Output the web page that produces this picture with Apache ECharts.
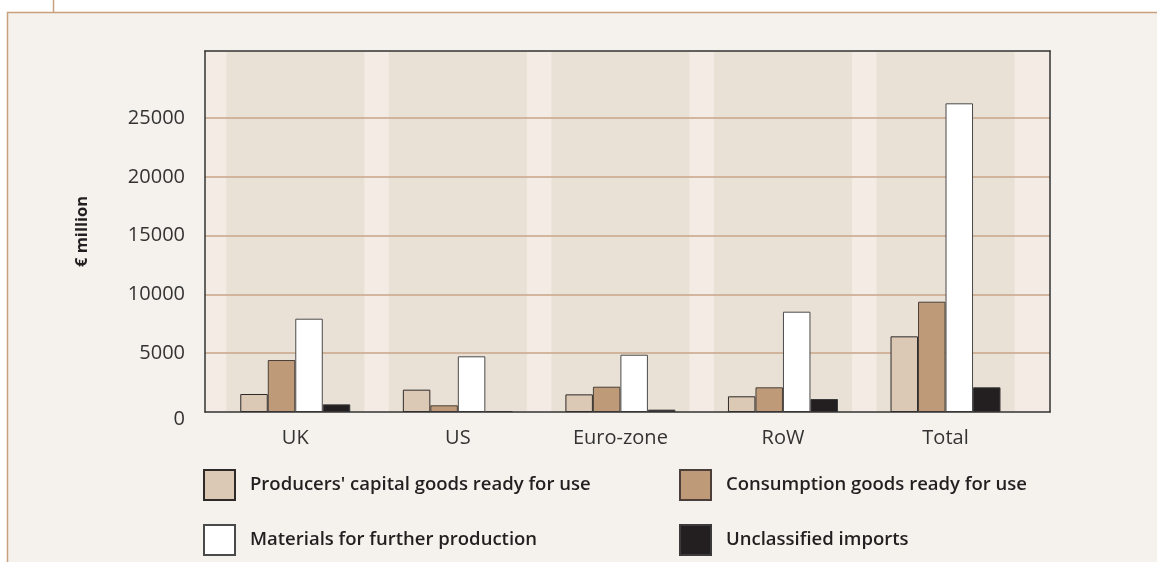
<!DOCTYPE html>
<html><head><meta charset="utf-8">
<script src="https://cdn.jsdelivr.net/npm/echarts@6/dist/echarts.min.js"></script>
<style>html,body{margin:0;padding:0;background:#fff}#c{width:1157px;height:562px}</style>
</head><body><div id="c"></div><script>
const categories = ['UK', 'US', 'Euro-zone', 'RoW', 'Total'];
const capitalGoods = [1530, 1900, 1500, 1335, 6435];
const consumptionGoods = [4420, 570, 2150, 2100, 9380];
const materials = [7935, 4735, 4870, 8530, 26250];
const unclassified = [650, 80, 200, 1105, 2100];
const yTicks = [0, 5000, 10000, 15000, 20000, 25000];
const yMax = 30700;
const seriesNames = ["Producers' capital goods ready for use", 'Consumption goods ready for use', 'Materials for further production', 'Unclassified imports'];

const FONT = 'Open Sans';
const chart = echarts.init(document.getElementById('c'), null, {renderer: 'canvas'});
const gridColor = '#c9a488';
function barSeries(name, data, color, border) {
  return {
    name: name, type: 'bar', xAxisIndex: 0, yAxisIndex: 0, data: data,
    barWidth: 27.5, barGap: '0%', z: 5,
    itemStyle: {color: color, borderColor: border, borderWidth: 1},
    emphasis: {disabled: true}
  };
}
function legendAt(name, left, top) {
  return {
    data: [name], left: left, top: top, padding: 0, orient: 'horizontal',
    itemWidth: 31, itemHeight: 30, icon: 'rect', selectedMode: false,
    textStyle: {fontFamily: FONT, fontWeight: 600, fontSize: 18.5, color: '#231f20', padding: [0, 0, 0, 10]}
  };
}
const frameLine = {show: true, onZero: false, lineStyle: {color: '#333', width: 1.5}};
chart.setOption({
  animation: false,
  backgroundColor: '#ffffff',
  graphic: [
    {type: 'rect', z: -10, shape: {x: 7.5, y: 12.5, width: 1200, height: 600}, style: {fill: '#f5f2ed', stroke: '#c8a07e', lineWidth: 1.5}},
    {type: 'line', z: -10, shape: {x1: 53.5, y1: 0, x2: 53.5, y2: 12.5}, style: {stroke: '#c8a07e', lineWidth: 1.5}}
  ],
  grid: [
    {left: 214, right: 130.2, top: 51, bottom: 150, containLabel: false},
    {left: 205, right: 107, top: 51, bottom: 150, show: true, backgroundColor: '#f3ebe4', borderWidth: 0, containLabel: false}
  ],
  xAxis: [
    {type: 'category', gridIndex: 0, data: categories, axisLine: {show: false}, axisTick: {show: false},
     axisLabel: {fontFamily: FONT, fontSize: 20, color: '#333', margin: 16}},
    {type: 'category', gridIndex: 0, data: categories, show: false},
    {type: 'value', gridIndex: 1, min: 0, max: 1, position: 'bottom', z: 6,
     axisLine: frameLine, axisTick: {show: false}, axisLabel: {show: false}, splitLine: {show: false}},
    {type: 'value', gridIndex: 1, min: 0, max: 1, position: 'top', z: 6,
     axisLine: frameLine, axisTick: {show: false}, axisLabel: {show: false}, splitLine: {show: false}}
  ],
  yAxis: [
    {type: 'value', gridIndex: 0, min: 0, max: yMax, show: false},
    {type: 'value', gridIndex: 1, min: 0, max: yMax, interval: 5000, position: 'left', z: 3,
     name: '€ million', nameLocation: 'middle', nameGap: 114, nameRotate: 90,
     nameTextStyle: {fontFamily: FONT, fontWeight: 'bold', fontSize: 16.5, color: '#231f20'},
     axisLine: frameLine, axisTick: {show: false},
     axisLabel: {fontFamily: FONT, fontSize: 20, color: '#333', margin: 20,
       formatter: v => yTicks.includes(v) ? (v === 0 ? '{z|0}' : String(v)) : '',
       rich: {z: {fontFamily: FONT, fontSize: 20, color: '#333', padding: [14, 0, 0, 0]}}},
     splitLine: {show: true, lineStyle: {color: ['transparent', gridColor, gridColor, gridColor, gridColor, gridColor, 'transparent', 'transparent'], width: 1.5}}},
    {type: 'value', gridIndex: 1, min: 0, max: 1, position: 'right', z: 6,
     axisLine: frameLine, axisTick: {show: false}, axisLabel: {show: false}, splitLine: {show: false}}
  ],
  legend: [
    legendAt(seriesNames[0], 203, 469),
    legendAt(seriesNames[1], 679, 469),
    legendAt(seriesNames[2], 203, 524),
    legendAt(seriesNames[3], 679, 524)
  ],
  series: [
    {name: 'band', type: 'bar', xAxisIndex: 1, yAxisIndex: 0, data: categories.map(() => yMax),
     barWidth: 138, z: 1, silent: true, itemStyle: {color: '#eae1d6'}, emphasis: {disabled: true}},
    barSeries(seriesNames[0], capitalGoods, '#dbc9b5', '#2e2a28'),
    barSeries(seriesNames[1], consumptionGoods, '#be9a79', '#4a4039'),
    barSeries(seriesNames[2], materials, '#ffffff', '#4a4a4a'),
    barSeries(seriesNames[3], unclassified, '#231f20', '#3a3a3a')
  ]
});
</script></body></html>
